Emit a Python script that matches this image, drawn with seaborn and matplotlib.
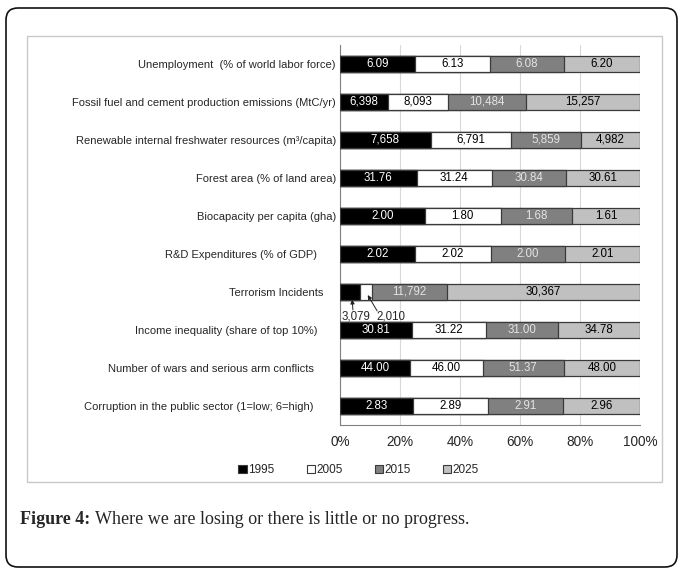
import numpy as np
import pandas as pd
import matplotlib
matplotlib.use("Agg")
import matplotlib.pyplot as plt
from matplotlib.patches import Patch, Rectangle, FancyBboxPatch
import seaborn as sns

# Data (top to bottom)
items = [
    "Unemployment  (% of world labor force)",
    "Fossil fuel and cement production emissions (MtC/yr)",
    "Renewable internal freshwater resources (m³/capita)",
    "Forest area (% of land area)",
    "Biocapacity per capita (gha)",
    "R&D Expenditures (% of GDP)      ",
    "Terrorism Incidents    ",
    "Income inequality (share of top 10%)      ",
    "Number of wars and serious arm conflicts       ",
    "Corruption in the public sector (1=low; 6=high)       ",
]
years = ["1995", "2005", "2015", "2025"]
v1995 = [6.09, 6398, 7658, 31.76, 2.00, 2.02, 3079, 30.81, 44.00, 2.83]
v2005 = [6.13, 8093, 6791, 31.24, 1.80, 2.02, 2010, 31.22, 46.00, 2.89]
v2015 = [6.08, 10484, 5859, 30.84, 1.68, 2.00, 11792, 31.00, 51.37, 2.91]
v2025 = [6.20, 15257, 4982, 30.61, 1.61, 2.01, 30367, 34.78, 48.00, 2.96]
is_count = [False, True, True, False, False, False, True, False, False, False]

fills = ["#000000", "#ffffff", "#808080", "#c0c0c0"]
text_cols = ["#ffffff", "#000000", "#e4e4e4", "#000000"]

sns.set_style("white")
plt.rcParams["font.family"] = ["Liberation Sans", "DejaVu Sans"]

vals = np.array([v1995, v2005, v2015, v2025], dtype=float)
pct = vals / vals.sum(axis=0) * 100
cum = pct.cumsum(axis=0)

df = pd.DataFrame({"item": items})
for k, y in enumerate(years):
    df["cum_" + y] = cum[k]

fig = plt.figure(figsize=(6.83, 5.71), dpi=100)
ax = fig.add_axes([340 / 683, 1 - 425 / 571, 300 / 683, 380 / 571])

# stacked bars: draw cumulative totals from the back
for k in range(3, -1, -1):
    sns.barplot(data=df, x="cum_" + years[k], y="item", orient="h",
                color=fills[k], saturation=1, width=0.4,
                edgecolor="#3a3a3a", linewidth=0.9, ax=ax, zorder=3)

# segment labels
for i in range(len(items)):
    for k in range(4):
        if pct[k, i] < 8:
            continue
        v = vals[k, i]
        s = f"{v:,.0f}" if is_count[i] else f"{v:.2f}"
        ax.text(cum[k, i] - pct[k, i] / 2, i, s, ha="center", va="center",
                fontsize=8.3, color=text_cols[k], zorder=5)

# small terrorism segments labelled below the bar
t = 6
arrow = dict(arrowstyle="-|>", color="#222222", lw=0.7, mutation_scale=6,
             shrinkA=0, shrinkB=0)
ax.text(0.4, t + 0.64, f"{vals[0, t]:,.0f}", fontsize=8.3, ha="left", va="center", zorder=6)
ax.text(12.3, t + 0.64, f"{vals[1, t]:,.0f}", fontsize=8.3, ha="left", va="center", zorder=6)
ax.annotate("", xy=(pct[0, t] / 2 + 0.8, t + 0.2), xytext=(4.3, t + 0.47),
            arrowprops=arrow, zorder=6)
ax.annotate("", xy=(cum[1, t] - pct[1, t] / 2 + 0.6, t + 0.08), xytext=(12.4, t + 0.5),
            arrowprops=arrow, zorder=6)

ax.set_xlim(0, 100)
ax.set_ylim(len(items) - 0.5, -0.5)
ax.set_xticks([0, 20, 40, 60, 80, 100])
ax.set_xticklabels(["0%", "20%", "40%", "60%", "80%", "100%"], fontsize=9.8)
ax.set_xlabel("")
ax.set_ylabel("")
ax.tick_params(axis="x", length=0, pad=7)
ax.tick_params(axis="y", which="major", length=0, labelsize=8, pad=3)
ax.set_yticks(np.arange(-0.5, len(items)), minor=True)
ax.tick_params(axis="y", which="minor", length=4, color="#808080", direction="out")
ax.grid(axis="x", color="#d9d9d9", lw=0.8, zorder=0)
ax.set_axisbelow(True)
for side in ["top", "right"]:
    ax.spines[side].set_visible(False)
for side in ["left", "bottom"]:
    ax.spines[side].set_color("#808080")
    ax.spines[side].set_linewidth(0.8)

handles = [Patch(facecolor=fills[k], edgecolor="#3a3a3a", linewidth=0.8) for k in range(4)]
fig.legend(handles, years, loc="center", bbox_to_anchor=(0.525, 1 - 470 / 571),
           ncol=4, frameon=False, fontsize=8.5, handlelength=0.7, handleheight=0.7,
           handletextpad=0.1, columnspacing=2.75)

# frames
fig.patches.append(Rectangle((27 / 683, 1 - 482 / 571), 635 / 683, 446 / 571,
                             transform=fig.transFigure, fill=False,
                             edgecolor="#c8c8c8", lw=1.0))
fig.patches.append(FancyBboxPatch((0.06, 0.04), 6.71, 5.59,
                                  boxstyle="round,pad=0,rounding_size=0.12",
                                  transform=fig.dpi_scale_trans, fill=False,
                                  edgecolor="#111111", lw=1.2))

# caption
r = fig.canvas.get_renderer()
t1 = fig.text(20 / 683, 1 - 519 / 571, "Figure 4:", fontsize=13, fontweight="bold",
              family="Liberation Serif", va="center", ha="left")
bb = t1.get_window_extent(renderer=r)
fig.text((bb.x1 + 5) / 683, 1 - 519 / 571,
         "Where we are losing or there is little or no progress.",
         fontsize=13, family="Liberation Serif", va="center", ha="left")

fig.savefig("out.png", dpi=100)
